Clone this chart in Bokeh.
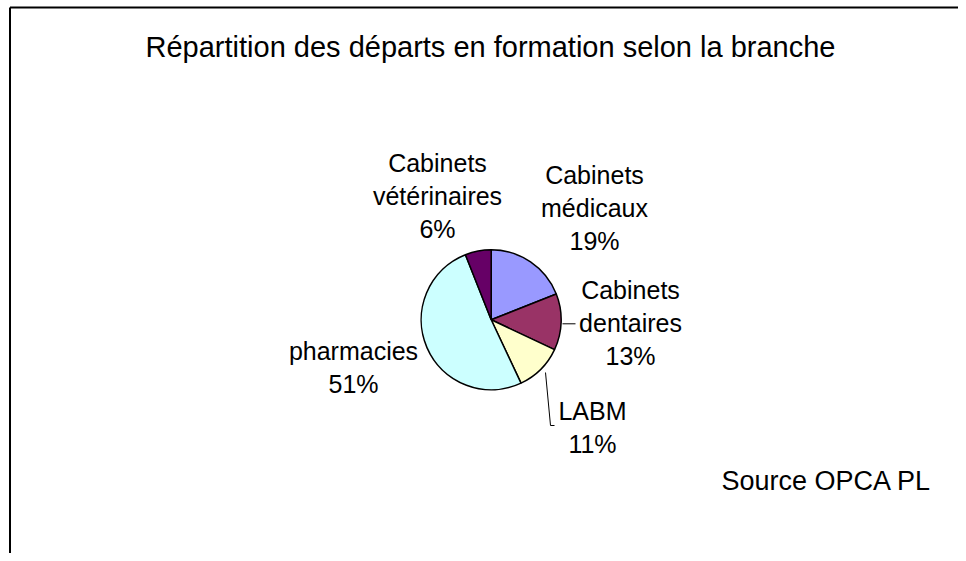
import math
from bokeh.plotting import figure
from bokeh.models import Range1d
from bokeh.core.properties import value
from bokeh.embed import file_html
from bokeh.resources import INLINE

# ---- data ----
title_text = "Répartition des départs en formation selon la branche"
categories = ["Cabinets\nmédicaux", "Cabinets\ndentaires", "LABM", "pharmacies", "Cabinets\nvétérinaires"]
values = [19, 13, 11, 51, 6]
colors = ["#9999FF", "#993366", "#FFFFCC", "#CCFFFF", "#660066"]
source_note = "Source OPCA PL"

# ---- layout (screen pixels) ----
W, H = 958, 553


def dx(px):
    return px


def dy(py):
    return H - py


def ty(py):
    # text anchor helper (baseline offset)
    return H + 8 - py


FONT = "Liberation Sans"
p = figure(width=W, height=H, x_range=Range1d(0, W), y_range=Range1d(0, H),
           toolbar_location=None, output_backend="svg", min_border=0,
           x_axis_location=None, y_axis_location=None)
p.grid.visible = False
p.outline_line_color = None
p.background_fill_color = "white"
p.border_fill_color = "white"

# chart border (left and top edges visible in the window)
p.line([dx(9.5), dx(9.5)], [dy(H), dy(7)], line_color="black", line_width=2)
p.line([dx(9.5), dx(W)], [dy(7), dy(7)], line_color="black", line_width=2)

# title
p.text([dx(490)], [ty(54)], text=[title_text], text_align="center", text_baseline="alphabetic",
       text_font=value(FONT), text_font_size="29px", text_color="black")

# pie
cx, cy, r = dx(490.7), dy(319.3), 70
total = float(sum(values))
cum = 0.0
starts, ends = [], []
for v in values:
    s = cum / total
    e = (cum + v) / total
    starts.append(math.pi / 2 - e * 2 * math.pi)
    ends.append(math.pi / 2 - s * 2 * math.pi)
    cum += v
p.wedge(x=[cx] * len(values), y=[cy] * len(values), radius=r,
        start_angle=starts, end_angle=ends, fill_color=colors,
        line_color="black", line_width=1.5)

# labels: (center x, first baseline y) in screen pixels
label_pos = [(594, 182), (630, 297), (592, 418), (353, 358), (437, 170)]
LINE_H = 33
for name, v, (lx, ly) in zip(categories, values, label_pos):
    lines = name.split("\n") + [f"{v}%"]
    for i, t in enumerate(lines):
        p.text([dx(lx)], [ty(ly + i * LINE_H)], text=[t], text_align="center",
               text_baseline="alphabetic", text_font=value(FONT),
               text_font_size="25px", text_color="black")

# leader lines
p.line([dx(562), dx(575)], [dy(323.3), dy(323.3)], line_color="black", line_width=1)
p.line([dx(545), dx(550), dx(554)], [dy(372), dy(425), dy(425)], line_color="black", line_width=1)

# source note
p.text([dx(931)], [ty(488)], text=[source_note], text_align="right", text_baseline="alphabetic",
       text_font=value(FONT), text_font_size="27px", text_color="black")

open("out.html", "w").write(file_html(p, INLINE))
